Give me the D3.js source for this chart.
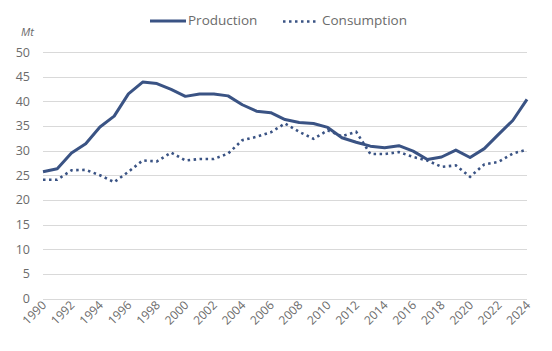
<!DOCTYPE html>
<html>
<head>
<meta charset="utf-8">
<script src="https://cdn.jsdelivr.net/npm/d3@7"></script>
<style>
  body { margin: 0; background: #fff; }
  text { font-family: "Open Sans", sans-serif; fill: #6b6b6b; }
</style>
</head>
<body>
<div id="chart"></div>
<script>
// 数据
let years = d3.range(1990, 2025);
let production = [25.7, 26.3, 29.5, 31.4, 34.8, 37.0, 41.5, 43.9, 43.6, 42.4,
    41.0, 41.5, 41.5, 41.1, 39.3, 38.0, 37.7, 36.3, 35.7, 35.5,
    34.7, 32.6, 31.7, 30.9, 30.6, 31.0, 29.9, 28.2, 28.7, 30.1,
    28.6, 30.4, 33.3, 36.1, 40.4];
let consumption = [24.1, 24.1, 26.0, 26.1, 25.0, 23.6, 25.7, 28.0, 27.8, 29.6,
    28.0, 28.3, 28.3, 29.4, 32.1, 32.8, 33.7, 35.5, 33.8, 32.4,
    34.1, 32.9, 33.8, 29.3, 29.3, 29.7, 28.7, 28.0, 26.7, 27.0,
    24.7, 27.2, 27.7, 29.4, 30.2];
let yTicks = d3.range(0, 55, 5);
let seriesNames = ['Production', 'Consumption'];

let width = 552, height = 351;
let color = '#3a5384';
let dots = '2.5,3.5';

let svg = d3.select('#chart').append('svg')
    .attr('width', width)
    .attr('height', height);

//比例尺
let xScale = d3.scaleLinear()
    .domain([1990, 2024])
    .range([43, 527]);
let yScale = d3.scaleLinear()
    .domain([0, 50])
    .range([298.5, 52]);

//网格线
svg.append('g')
    .selectAll('line')
    .data(yTicks)
    .enter()
    .append('line')
    .attr('x1', 43)
    .attr('x2', 527)
    .attr('y1', d => Math.round(yScale(d)) + 0.5)
    .attr('y2', d => Math.round(yScale(d)) + 0.5)
    .attr('stroke', '#d9d9d9')
    .attr('stroke-width', 1);

//y轴标签
svg.append('g')
    .selectAll('text')
    .data(yTicks)
    .enter()
    .append('text')
    .attr('x', 30)
    .attr('y', d => yScale(d))
    .attr('dy', '0.36em')
    .attr('text-anchor', 'end')
    .style('font-size', '12.5px')
    .text(d => d);

svg.append('text')
    .attr('x', 21)
    .attr('y', 36)
    .style('font-size', '11px')
    .style('font-style', 'italic')
    .text('Mt');

//x轴标签，每两年一个
svg.append('g')
    .selectAll('text')
    .data(years.filter(y => y % 2 === 0))
    .enter()
    .append('text')
    .attr('transform', d => 'translate(' + (xScale(d) + 4) + ',306) rotate(-45)')
    .attr('text-anchor', 'end')
    .style('font-size', '12px')
    .text(d => d);

//线
let line = d3.line()
    .x((d, i) => xScale(years[i]))
    .y(d => yScale(d));

svg.append('path')
    .datum(consumption)
    .attr('d', line)
    .attr('fill', 'none')
    .attr('stroke', color)
    .attr('stroke-width', 2.6)
    .attr('stroke-dasharray', dots);

svg.append('path')
    .datum(production)
    .attr('d', line)
    .attr('fill', 'none')
    .attr('stroke', color)
    .attr('stroke-width', 3)
    .attr('stroke-linejoin', 'round');

//图例
let legend = svg.append('g');
legend.append('line')
    .attr('x1', 150).attr('x2', 186)
    .attr('y1', 21).attr('y2', 21)
    .attr('stroke', color)
    .attr('stroke-width', 3);
legend.append('text')
    .attr('x', 188).attr('y', 20.5)
    .attr('dy', '0.36em')
    .style('font-size', '13.5px')
    .text(seriesNames[0]);
legend.append('line')
    .attr('x1', 283).attr('x2', 318)
    .attr('y1', 21.5).attr('y2', 21.5)
    .attr('stroke', color)
    .attr('stroke-width', 2.6)
    .attr('stroke-dasharray', dots);
legend.append('text')
    .attr('x', 322).attr('y', 20.5)
    .attr('dy', '0.36em')
    .style('font-size', '13.5px')
    .text(seriesNames[1]);
</script>
</body>
</html>
